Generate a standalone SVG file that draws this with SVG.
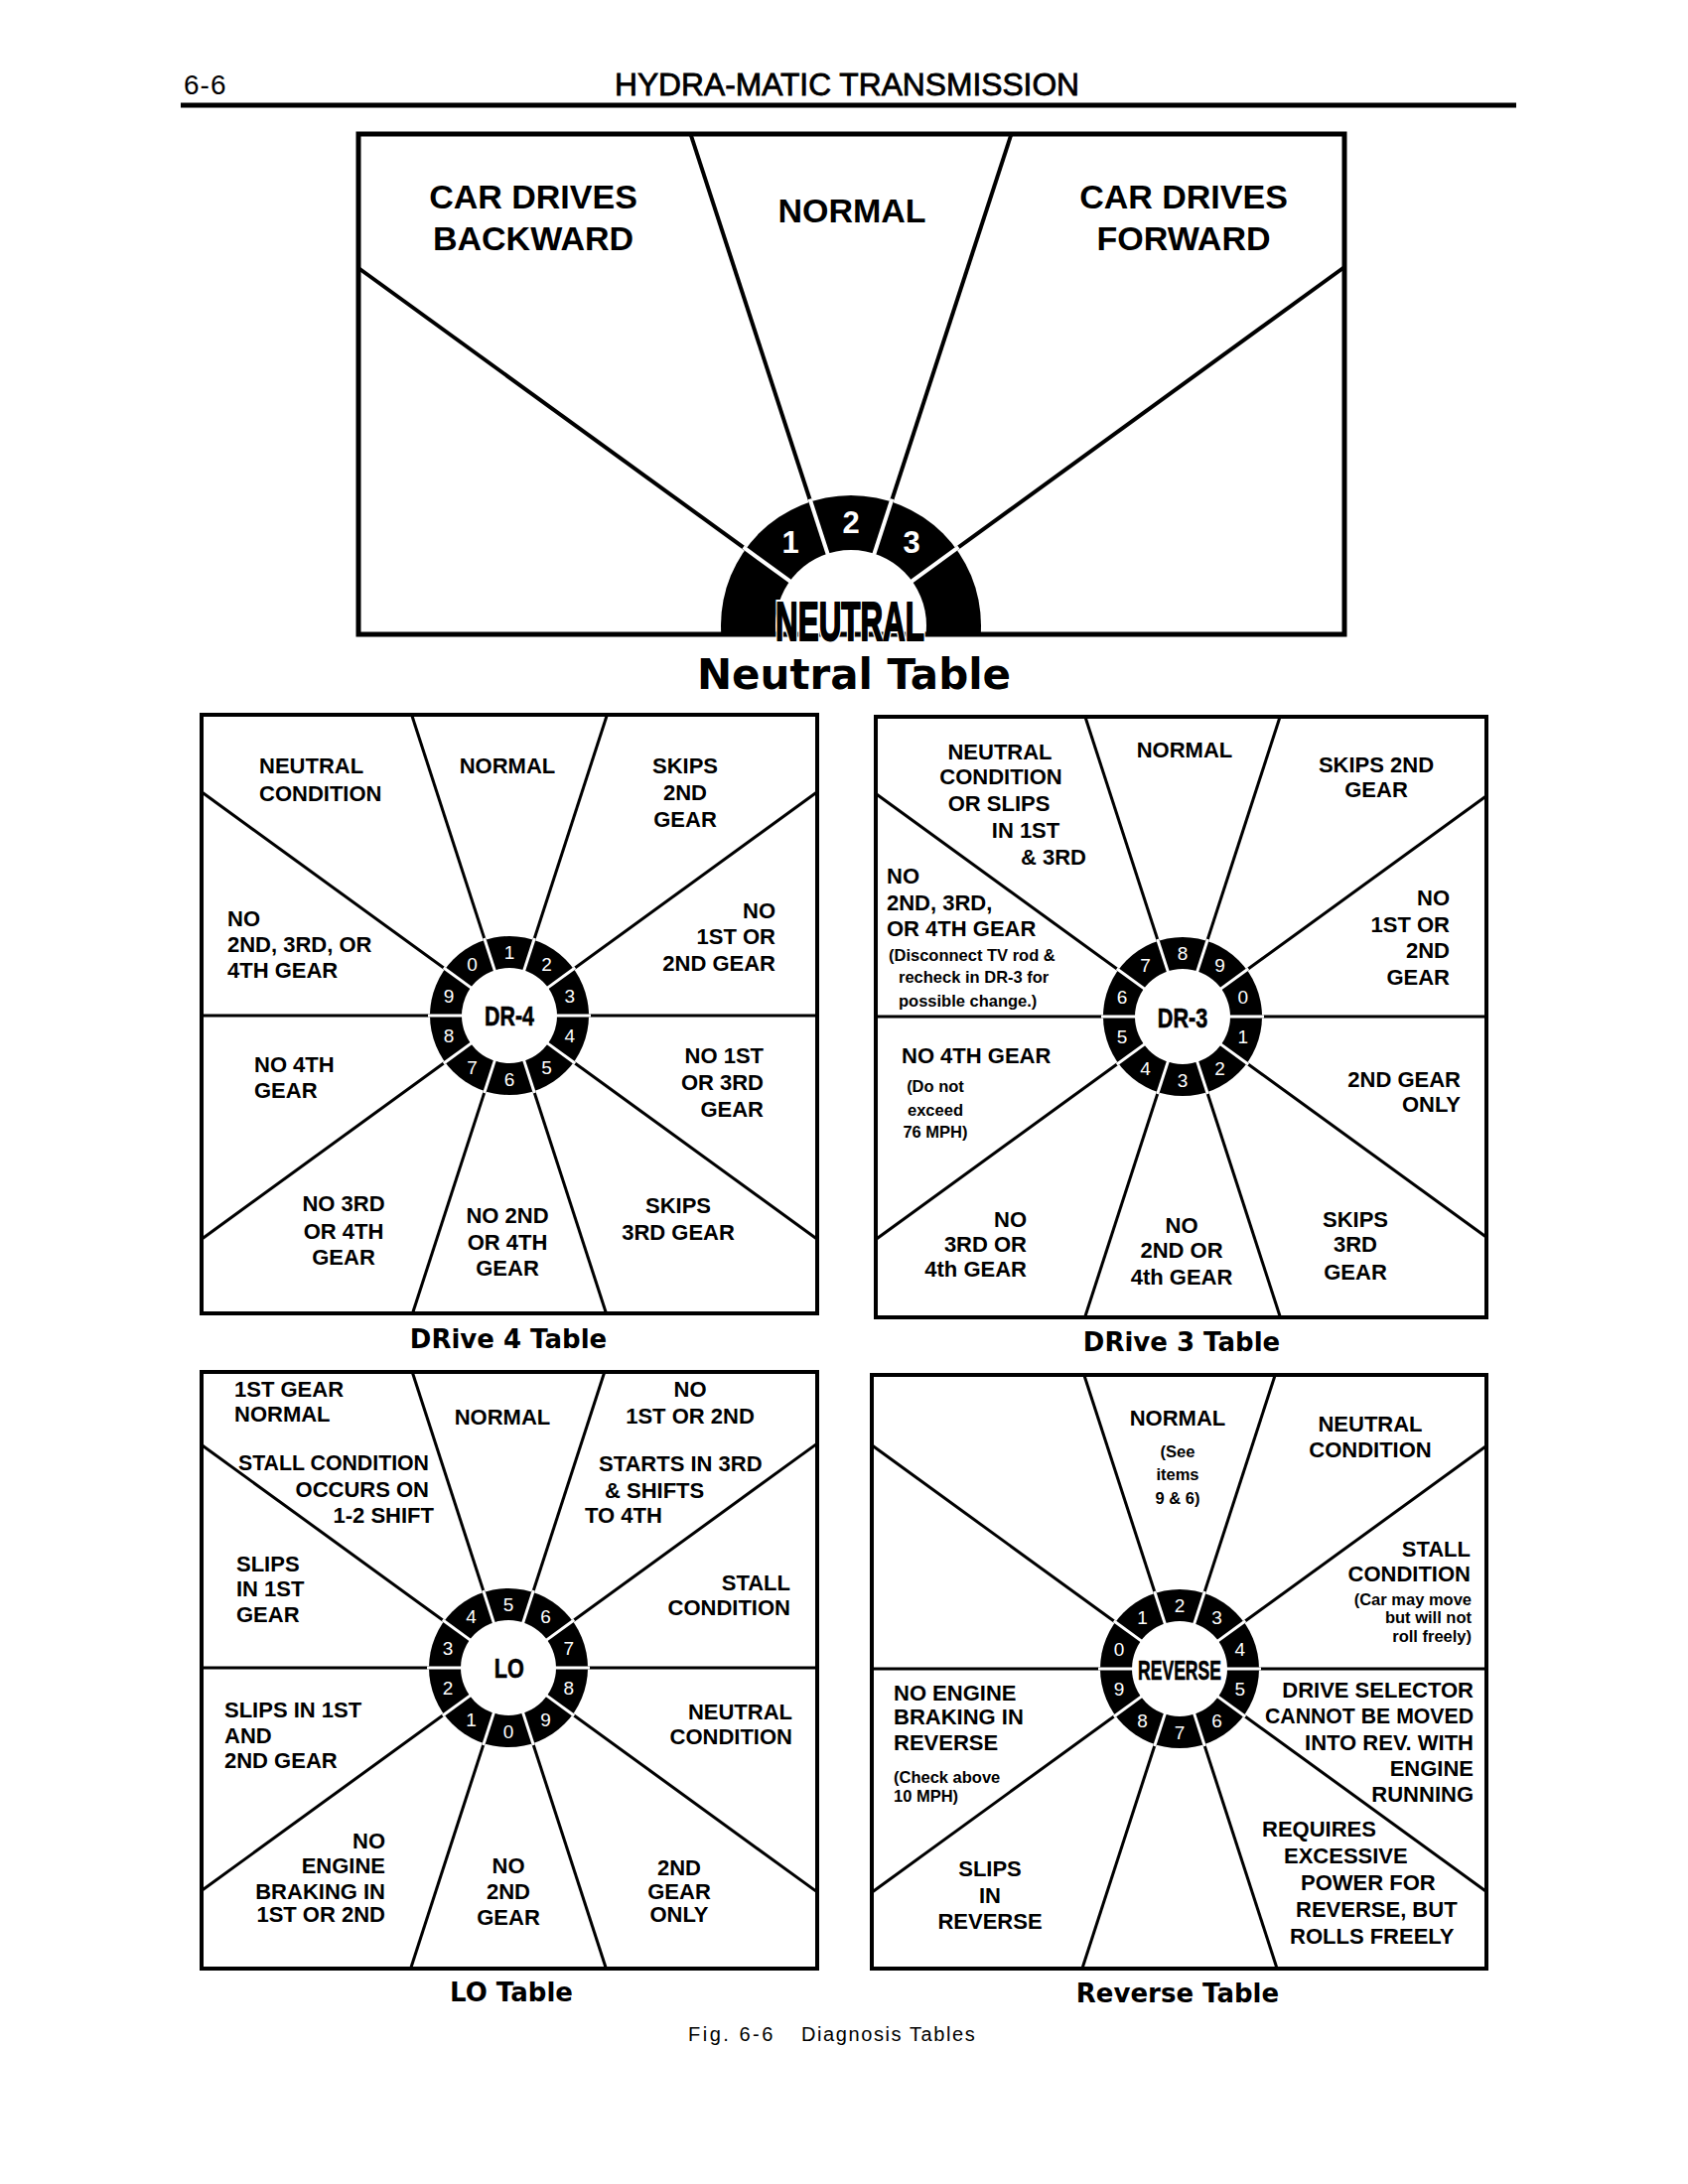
<svg xmlns="http://www.w3.org/2000/svg" width="1700" height="2200" viewBox="0 0 1700 2200">
<style>
text { font-family: "Liberation Sans", Arial, sans-serif; fill: #000; }
.lb { font-weight: bold; font-size: 22px; }
.big { font-weight: bold; font-size: 34px; }
.sm { font-size: 16.5px; }
.m { text-anchor: middle; }
.e { text-anchor: end; }
.box { fill: #fff; stroke: #000; stroke-width: 4; }
.spk { stroke: #000; stroke-width: 3; fill: none; }
.num { font-size: 19px; fill: #fff; text-anchor: middle; }
.ctr { font-weight: bold; font-size: 27px; text-anchor: middle; stroke: #000; stroke-width: 0.6; }
.cap { font-family: "DejaVu Sans", "Liberation Sans", sans-serif; font-weight: bold; font-size: 26px; text-anchor: middle; }
</style>
<defs>
  <g id="ring">
    <circle r="80" fill="#000"/>
    <g stroke="#fff" stroke-width="3">
      <line x1="44" y1="0" x2="82" y2="0"/>
      <line x1="44" y1="0" x2="82" y2="0" transform="rotate(36)"/>
      <line x1="44" y1="0" x2="82" y2="0" transform="rotate(72)"/>
      <line x1="44" y1="0" x2="82" y2="0" transform="rotate(108)"/>
      <line x1="44" y1="0" x2="82" y2="0" transform="rotate(144)"/>
      <line x1="44" y1="0" x2="82" y2="0" transform="rotate(180)"/>
      <line x1="44" y1="0" x2="82" y2="0" transform="rotate(216)"/>
      <line x1="44" y1="0" x2="82" y2="0" transform="rotate(252)"/>
      <line x1="44" y1="0" x2="82" y2="0" transform="rotate(288)"/>
      <line x1="44" y1="0" x2="82" y2="0" transform="rotate(324)"/>
    </g>
    <circle r="48" fill="#fff"/>
  </g>
  <clipPath id="nclip"><rect x="361" y="135" width="993" height="505"/></clipPath>
</defs>
<rect x="0" y="0" width="1700" height="2200" fill="#fff"/>

<g id="header">
  <text x="185" y="95" style="font-size:28px;letter-spacing:1px">6-6</text>
  <text x="619" y="96" style="font-size:32px;stroke:#000;stroke-width:0.8" textLength="468" lengthAdjust="spacingAndGlyphs">HYDRA-MATIC TRANSMISSION</text>
  <line x1="182" y1="106" x2="1527" y2="106" stroke="#000" stroke-width="5"/>
</g>

<!-- NEUTRAL TABLE -->
<g id="neutral-table">
  <rect x="361" y="135" width="993" height="504" fill="#fff"/>
  <g id="neutral-spokes" stroke="#000" stroke-width="4">
    <line x1="857" y1="630" x2="361" y2="270"/>
    <line x1="857" y1="630" x2="695.5" y2="135"/>
    <line x1="857" y1="630" x2="1018.5" y2="135"/>
    <line x1="857" y1="630" x2="1354" y2="269"/>
  </g>
  <g clip-path="url(#nclip)">
    <circle cx="857" cy="630" r="131" fill="#000"/>
    <g stroke="#fff" stroke-width="4" transform="translate(857,630)">
      <line x1="70" y1="0" x2="134" y2="0" transform="rotate(-36)"/>
      <line x1="70" y1="0" x2="134" y2="0" transform="rotate(-72)"/>
      <line x1="70" y1="0" x2="134" y2="0" transform="rotate(-108)"/>
      <line x1="70" y1="0" x2="134" y2="0" transform="rotate(-144)"/>
    </g>
    <circle cx="857" cy="630" r="76" fill="#fff"/>
  </g>
  <rect x="361" y="135" width="993" height="504" fill="none" stroke="#000" stroke-width="5"/>
  <text x="796" y="557" style="font-size:31px;font-weight:bold;fill:#fff" text-anchor="middle">1</text>
  <text x="857" y="537" style="font-size:31px;font-weight:bold;fill:#fff" text-anchor="middle">2</text>
  <text x="918" y="557" style="font-size:31px;font-weight:bold;fill:#fff" text-anchor="middle">3</text>
  <g transform="translate(856,645) scale(0.56,1)">
    <text x="0" y="0" text-anchor="middle" style="font-size:56px;font-weight:bold;fill:#000;stroke:#fff;stroke-width:6;paint-order:stroke">NEUTRAL</text>
    <text x="0" y="0" text-anchor="middle" style="font-size:56px;font-weight:bold;fill:#000;stroke:#000;stroke-width:1.8">NEUTRAL</text>
  </g>
  <text class="big m"><tspan x="537" y="210">CAR DRIVES</tspan><tspan x="537" y="252">BACKWARD</tspan></text>
  <text class="big m" x="858" y="224">NORMAL</text>
  <text class="big m"><tspan x="1192" y="210">CAR DRIVES</tspan><tspan x="1192" y="252">FORWARD</tspan></text>
  <text class="cap" x="860" y="694" style="font-size:42px">Neutral Table</text>
</g>

<!-- DRIVE 4 TABLE -->
<g id="dr4-table">
  <rect class="box" x="203" y="720" width="620" height="603"/>
  <g class="spk">
    <line x1="513" y1="1023" x2="823" y2="1023"/>
    <line x1="513" y1="1023" x2="823" y2="797.8"/>
    <line x1="513" y1="1023" x2="611.4" y2="720"/>
    <line x1="513" y1="1023" x2="414.6" y2="720"/>
    <line x1="513" y1="1023" x2="203" y2="797.8"/>
    <line x1="513" y1="1023" x2="203" y2="1023"/>
    <line x1="513" y1="1023" x2="203" y2="1248.2"/>
    <line x1="513" y1="1023" x2="415.5" y2="1323"/>
    <line x1="513" y1="1023" x2="610.5" y2="1323"/>
    <line x1="513" y1="1023" x2="823" y2="1248.2"/>
  </g>
  <g transform="translate(513,1023)">
    <use href="#ring"/>
    <text class="num" x="0" y="-57">1</text>
    <text class="num" x="37.6" y="-45">2</text>
    <text class="num" x="60.9" y="-13">3</text>
    <text class="num" x="60.9" y="26.6">4</text>
    <text class="num" x="37.6" y="58.6">5</text>
    <text class="num" x="0" y="70.8">6</text>
    <text class="num" x="-37.6" y="58.6">7</text>
    <text class="num" x="-60.9" y="26.6">8</text>
    <text class="num" x="-60.9" y="-13">9</text>
    <text class="num" x="-37.6" y="-45">0</text>
    <text class="ctr" x="0" y="10" transform="scale(0.79,1)">DR-4</text>
  </g>
  <text class="lb"><tspan x="261" y="779">NEUTRAL</tspan><tspan x="261" y="807">CONDITION</tspan></text>
  <text class="lb m" x="511" y="779">NORMAL</text>
  <text class="lb m"><tspan x="690" y="779">SKIPS</tspan><tspan x="690" y="806">2ND</tspan><tspan x="690" y="833">GEAR</tspan></text>
  <text class="lb"><tspan x="229" y="933">NO</tspan><tspan x="229" y="959">2ND, 3RD, OR</tspan><tspan x="229" y="985">4TH GEAR</tspan></text>
  <text class="lb e"><tspan x="781" y="925">NO</tspan><tspan x="781" y="951">1ST OR</tspan><tspan x="781" y="978">2ND GEAR</tspan></text>
  <text class="lb"><tspan x="256" y="1080">NO 4TH</tspan><tspan x="256" y="1106">GEAR</tspan></text>
  <text class="lb e"><tspan x="769" y="1071">NO 1ST</tspan><tspan x="769" y="1098">OR 3RD</tspan><tspan x="769" y="1125">GEAR</tspan></text>
  <text class="lb m"><tspan x="346" y="1220">NO 3RD</tspan><tspan x="346" y="1248">OR 4TH</tspan><tspan x="346" y="1274">GEAR</tspan></text>
  <text class="lb m"><tspan x="511" y="1232">NO 2ND</tspan><tspan x="511" y="1259">OR 4TH</tspan><tspan x="511" y="1285">GEAR</tspan></text>
  <text class="lb m"><tspan x="683" y="1222">SKIPS</tspan><tspan x="683" y="1249">3RD GEAR</tspan></text>
  <text class="cap" x="512" y="1358">DRive 4 Table</text>
</g>

<!-- DRIVE 3 TABLE -->
<g id="dr3-table">
  <rect class="box" x="882" y="722" width="615" height="605"/>
  <g class="spk">
    <line x1="1191" y1="1024" x2="1497" y2="1024"/>
    <line x1="1191" y1="1024" x2="1497" y2="801.7"/>
    <line x1="1191" y1="1024" x2="1289.1" y2="722"/>
    <line x1="1191" y1="1024" x2="1092.9" y2="722"/>
    <line x1="1191" y1="1024" x2="882" y2="799.5"/>
    <line x1="1191" y1="1024" x2="882" y2="1024"/>
    <line x1="1191" y1="1024" x2="882" y2="1248.5"/>
    <line x1="1191" y1="1024" x2="1092.6" y2="1327"/>
    <line x1="1191" y1="1024" x2="1289.4" y2="1327"/>
    <line x1="1191" y1="1024" x2="1497" y2="1246.3"/>
  </g>
  <g transform="translate(1191,1024)">
    <use href="#ring"/>
    <text class="num" x="0" y="-57">8</text>
    <text class="num" x="37.6" y="-45">9</text>
    <text class="num" x="60.9" y="-13">0</text>
    <text class="num" x="60.9" y="26.6">1</text>
    <text class="num" x="37.6" y="58.6">2</text>
    <text class="num" x="0" y="70.8">3</text>
    <text class="num" x="-37.6" y="58.6">4</text>
    <text class="num" x="-60.9" y="26.6">5</text>
    <text class="num" x="-60.9" y="-13">6</text>
    <text class="num" x="-37.6" y="-45">7</text>
    <text class="ctr" x="0" y="11" transform="scale(0.8,1)">DR-3</text>
  </g>
  <text class="lb m"><tspan x="1007" y="765">NEUTRAL</tspan><tspan x="1008" y="790">CONDITION</tspan><tspan x="1006" y="817">OR SLIPS</tspan><tspan x="1033" y="844">IN 1ST</tspan><tspan x="1061" y="871">&amp; 3RD</tspan></text>
  <text class="lb"><tspan x="893" y="890">NO</tspan><tspan x="893" y="917">2ND, 3RD,</tspan><tspan x="893" y="943">OR 4TH GEAR</tspan></text>
  <text class="lb sm"><tspan x="895" y="968">(Disconnect TV rod &amp;</tspan><tspan x="905" y="990">recheck in DR-3 for</tspan><tspan x="905" y="1014">possible change.)</tspan></text>
  <text class="lb m" x="1193" y="763">NORMAL</text>
  <text class="lb m"><tspan x="1386" y="778">SKIPS 2ND</tspan><tspan x="1386" y="803">GEAR</tspan></text>
  <text class="lb e"><tspan x="1460" y="912">NO</tspan><tspan x="1460" y="939">1ST OR</tspan><tspan x="1460" y="965">2ND</tspan><tspan x="1460" y="992">GEAR</tspan></text>
  <text class="lb" x="908" y="1071">NO 4TH GEAR</text>
  <text class="lb sm m"><tspan x="942" y="1100">(Do not</tspan><tspan x="942" y="1124">exceed</tspan><tspan x="942" y="1146">76 MPH)</tspan></text>
  <text class="lb e"><tspan x="1471" y="1095">2ND GEAR</tspan><tspan x="1471" y="1120">ONLY</tspan></text>
  <text class="lb e"><tspan x="1034" y="1236">NO</tspan><tspan x="1034" y="1261">3RD OR</tspan><tspan x="1034" y="1286">4th GEAR</tspan></text>
  <text class="lb m"><tspan x="1190" y="1242">NO</tspan><tspan x="1190" y="1267">2ND OR</tspan><tspan x="1190" y="1294">4th GEAR</tspan></text>
  <text class="lb m"><tspan x="1365" y="1236">SKIPS</tspan><tspan x="1365" y="1261">3RD</tspan><tspan x="1365" y="1289">GEAR</tspan></text>
  <text class="cap" x="1190" y="1361">DRive 3 Table</text>
</g>

<!-- LO TABLE -->
<g id="lo-table">
  <rect class="box" x="203" y="1382" width="620" height="601"/>
  <g class="spk">
    <line x1="512" y1="1680" x2="823" y2="1680"/>
    <line x1="512" y1="1680" x2="823" y2="1454.1"/>
    <line x1="512" y1="1680" x2="608.8" y2="1382"/>
    <line x1="512" y1="1680" x2="415.2" y2="1382"/>
    <line x1="512" y1="1680" x2="203" y2="1455.5"/>
    <line x1="512" y1="1680" x2="203" y2="1680"/>
    <line x1="512" y1="1680" x2="203" y2="1904.5"/>
    <line x1="512" y1="1680" x2="413.6" y2="1983"/>
    <line x1="512" y1="1680" x2="610.4" y2="1983"/>
    <line x1="512" y1="1680" x2="823" y2="1905.9"/>
  </g>
  <g transform="translate(512,1680)">
    <use href="#ring"/>
    <text class="num" x="0" y="-57">5</text>
    <text class="num" x="37.6" y="-45">6</text>
    <text class="num" x="60.9" y="-13">7</text>
    <text class="num" x="60.9" y="26.6">8</text>
    <text class="num" x="37.6" y="58.6">9</text>
    <text class="num" x="0" y="70.8">0</text>
    <text class="num" x="-37.6" y="58.6">1</text>
    <text class="num" x="-60.9" y="26.6">2</text>
    <text class="num" x="-60.9" y="-13">3</text>
    <text class="num" x="-37.6" y="-45">4</text>
    <text class="ctr" x="1" y="10" transform="scale(0.8,1)">LO</text>
  </g>
  <text class="lb"><tspan x="236" y="1407">1ST GEAR</tspan><tspan x="236" y="1432">NORMAL</tspan></text>
  <text class="lb e" x="432" y="1481" textLength="192" lengthAdjust="spacingAndGlyphs">STALL CONDITION</text>
  <text class="lb e"><tspan x="432" y="1508">OCCURS ON</tspan><tspan x="437" y="1534">1-2 SHIFT</tspan></text>
  <text class="lb m" x="506" y="1435">NORMAL</text>
  <text class="lb m"><tspan x="695" y="1407">NO</tspan><tspan x="695" y="1434">1ST OR 2ND</tspan></text>
  <text class="lb"><tspan x="603" y="1482">STARTS IN 3RD</tspan><tspan x="609" y="1509">&amp; SHIFTS</tspan><tspan x="589" y="1534">TO 4TH</tspan></text>
  <text class="lb"><tspan x="238" y="1583">SLIPS</tspan><tspan x="238" y="1608">IN 1ST</tspan><tspan x="238" y="1634">GEAR</tspan></text>
  <text class="lb e"><tspan x="796" y="1602">STALL</tspan><tspan x="796" y="1627">CONDITION</tspan></text>
  <text class="lb"><tspan x="226" y="1730">SLIPS IN 1ST</tspan><tspan x="226" y="1756">AND</tspan><tspan x="226" y="1781">2ND GEAR</tspan></text>
  <text class="lb e"><tspan x="798" y="1732">NEUTRAL</tspan><tspan x="798" y="1757">CONDITION</tspan></text>
  <text class="lb e"><tspan x="388" y="1862">NO</tspan><tspan x="388" y="1887">ENGINE</tspan><tspan x="388" y="1913">BRAKING IN</tspan><tspan x="388" y="1936">1ST OR 2ND</tspan></text>
  <text class="lb m"><tspan x="512" y="1887">NO</tspan><tspan x="512" y="1913">2ND</tspan><tspan x="512" y="1939">GEAR</tspan></text>
  <text class="lb m"><tspan x="684" y="1889">2ND</tspan><tspan x="684" y="1913">GEAR</tspan><tspan x="684" y="1936">ONLY</tspan></text>
  <text class="cap" x="515" y="2016">LO Table</text>
</g>

<!-- REVERSE TABLE -->
<g id="reverse-table">
  <rect class="box" x="878" y="1385" width="619" height="598"/>
  <g class="spk">
    <line x1="1188" y1="1681" x2="1497" y2="1681"/>
    <line x1="1188" y1="1681" x2="1497" y2="1456.5"/>
    <line x1="1188" y1="1681" x2="1284.2" y2="1385"/>
    <line x1="1188" y1="1681" x2="1091.8" y2="1385"/>
    <line x1="1188" y1="1681" x2="878" y2="1455.8"/>
    <line x1="1188" y1="1681" x2="878" y2="1681"/>
    <line x1="1188" y1="1681" x2="878" y2="1906.2"/>
    <line x1="1188" y1="1681" x2="1089.9" y2="1983"/>
    <line x1="1188" y1="1681" x2="1286.1" y2="1983"/>
    <line x1="1188" y1="1681" x2="1497" y2="1905.5"/>
  </g>
  <g transform="translate(1188,1681)">
    <use href="#ring"/>
    <text class="num" x="0" y="-57">2</text>
    <text class="num" x="37.6" y="-45">3</text>
    <text class="num" x="60.9" y="-13">4</text>
    <text class="num" x="60.9" y="26.6">5</text>
    <text class="num" x="37.6" y="58.6">6</text>
    <text class="num" x="0" y="70.8">7</text>
    <text class="num" x="-37.6" y="58.6">8</text>
    <text class="num" x="-60.9" y="26.6">9</text>
    <text class="num" x="-60.9" y="-13">0</text>
    <text class="num" x="-37.6" y="-45">1</text>
    <text class="ctr" x="0" y="11" transform="scale(0.65,1)">REVERSE</text>
  </g>
  <text class="lb m" x="1186" y="1436">NORMAL</text>
  <text class="lb sm m"><tspan x="1186" y="1468">(See</tspan><tspan x="1186" y="1491">items</tspan><tspan x="1186" y="1515">9 &amp; 6)</tspan></text>
  <text class="lb m"><tspan x="1380" y="1442">NEUTRAL</tspan><tspan x="1380" y="1468">CONDITION</tspan></text>
  <text class="lb e"><tspan x="1481" y="1568">STALL</tspan><tspan x="1481" y="1593">CONDITION</tspan></text>
  <text class="lb sm e"><tspan x="1482" y="1617">(Car may move</tspan><tspan x="1482" y="1635">but will not</tspan><tspan x="1482" y="1654">roll freely)</tspan></text>
  <text class="lb"><tspan x="900" y="1713">NO ENGINE</tspan><tspan x="900" y="1737">BRAKING IN</tspan><tspan x="900" y="1763">REVERSE</tspan></text>
  <text class="lb sm"><tspan x="900" y="1796">(Check above</tspan><tspan x="900" y="1815">10 MPH)</tspan></text>
  <text class="lb e" x="1484" y="1710">DRIVE SELECTOR</text>
  <text class="lb e" x="1484" y="1736" textLength="210" lengthAdjust="spacingAndGlyphs">CANNOT BE MOVED</text>
  <text class="lb e"><tspan x="1484" y="1763">INTO REV. WITH</tspan><tspan x="1484" y="1789">ENGINE</tspan><tspan x="1484" y="1815">RUNNING</tspan></text>
  <text class="lb m"><tspan x="997" y="1890">SLIPS</tspan><tspan x="997" y="1917">IN</tspan><tspan x="997" y="1943">REVERSE</tspan></text>
  <text class="lb"><tspan x="1271" y="1850">REQUIRES</tspan><tspan x="1293" y="1877">EXCESSIVE</tspan><tspan x="1310" y="1904">POWER FOR</tspan><tspan x="1305" y="1931">REVERSE, BUT</tspan><tspan x="1299" y="1958">ROLLS FREELY</tspan></text>
  <text class="cap" x="1186" y="2017">Reverse Table</text>
</g>

<g id="figure-caption">
  <text y="2056" style="font-size:20px"><tspan x="693" style="letter-spacing:2.5px">Fig. 6-6</tspan><tspan x="807" style="letter-spacing:1.6px">Diagnosis Tables</tspan></text>
</g>
</svg>
